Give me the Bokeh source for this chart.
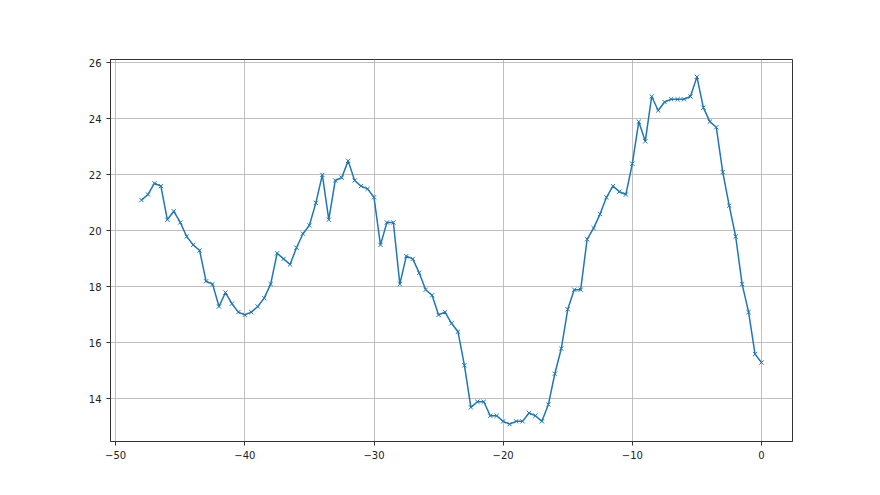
from bokeh.plotting import figure
from bokeh.models import FixedTicker, Range1d
from bokeh.embed import file_html
from bokeh.resources import INLINE

x_vals = [-48.0, -47.5, -47.0, -46.5, -46.0, -45.5, -45.0, -44.5, -44.0, -43.5,
          -43.0, -42.5, -42.0, -41.5, -41.0, -40.5, -40.0, -39.5, -39.0, -38.5,
          -38.0, -37.5, -37.0, -36.5, -36.0, -35.5, -35.0, -34.5, -34.0, -33.5,
          -33.0, -32.5, -32.0, -31.5, -31.0, -30.5, -30.0, -29.5, -29.0, -28.5,
          -28.0, -27.5, -27.0, -26.5, -26.0, -25.5, -25.0, -24.5, -24.0, -23.5,
          -23.0, -22.5, -22.0, -21.5, -21.0, -20.5, -20.0, -19.5, -19.0, -18.5,
          -18.0, -17.5, -17.0, -16.5, -16.0, -15.5, -15.0, -14.5, -14.0, -13.5,
          -13.0, -12.5, -12.0, -11.5, -11.0, -10.5, -10.0, -9.5, -9.0, -8.5,
          -8.0, -7.5, -7.0, -6.5, -6.0, -5.5, -5.0, -4.5, -4.0, -3.5,
          -3.0, -2.5, -2.0, -1.5, -1.0, -0.5, 0.0]
y_vals = [21.1, 21.3, 21.7, 21.6, 20.4, 20.7, 20.3, 19.8, 19.5, 19.3,
          18.2, 18.1, 17.3, 17.8, 17.4, 17.1, 17.0, 17.1, 17.3, 17.6,
          18.1, 19.2, 19.0, 18.8, 19.4, 19.9, 20.2, 21.0, 22.0, 20.4,
          21.8, 21.9, 22.5, 21.8, 21.6, 21.5, 21.2, 19.5, 20.3, 20.3,
          18.1, 19.1, 19.0, 18.5, 17.9, 17.7, 17.0, 17.1, 16.7, 16.4,
          15.2, 13.7, 13.9, 13.9, 13.4, 13.4, 13.2, 13.1, 13.2, 13.2,
          13.5, 13.4, 13.2, 13.8, 14.9, 15.8, 17.2, 17.9, 17.9, 19.7,
          20.1, 20.6, 21.2, 21.6, 21.4, 21.3, 22.4, 23.9, 23.2, 24.8,
          24.3, 24.6, 24.7, 24.7, 24.7, 24.8, 25.5, 24.4, 23.9, 23.7,
          22.1, 20.9, 19.8, 18.1, 17.1, 15.6, 15.3]

x_ticks = [-50, -40, -30, -20, -10, 0]
y_ticks = [14, 16, 18, 20, 22, 24, 26]

p = figure(width=872, height=487, output_backend="svg", toolbar_location=None,
           x_range=Range1d(-50.4, 2.4), y_range=Range1d(12.48, 26.12),
           min_border_left=110, min_border_right=80, min_border_top=59, min_border_bottom=46)
p.background_fill_color = "white"
p.border_fill_color = "white"
p.outline_line_color = "#333333"
p.outline_line_width = 1
p.outline_line_alpha = 1

for ax in (p.xaxis[0], p.yaxis[0]):
    ax.axis_line_color = "#333333"
    ax.major_tick_line_color = "#333333"
    ax.major_tick_out = 4
    ax.major_tick_in = 0
    ax.minor_tick_line_color = None
    ax.major_label_text_font = "DejaVu Sans"
    ax.major_label_text_font_size = "10px"
    ax.major_label_text_color = "#222222"

p.xaxis.ticker = FixedTicker(ticks=x_ticks)
p.yaxis.ticker = FixedTicker(ticks=y_ticks)
p.xaxis.major_label_overrides = {t: str(t).replace("-", "\u2212") for t in x_ticks}
p.yaxis.major_label_overrides = {t: str(t) for t in y_ticks}

p.xgrid.ticker = FixedTicker(ticks=x_ticks)
p.ygrid.ticker = FixedTicker(ticks=y_ticks)
p.grid.grid_line_color = "#b0b0b0"
p.grid.grid_line_width = 0.8

p.line(x_vals, y_vals, line_color="#1f77b4", line_width=1.5)
p.scatter(x_vals, y_vals, marker="x", size=6, line_color="#1f77b4", line_width=1)

open("out.html", "w").write(file_html(p, INLINE))
